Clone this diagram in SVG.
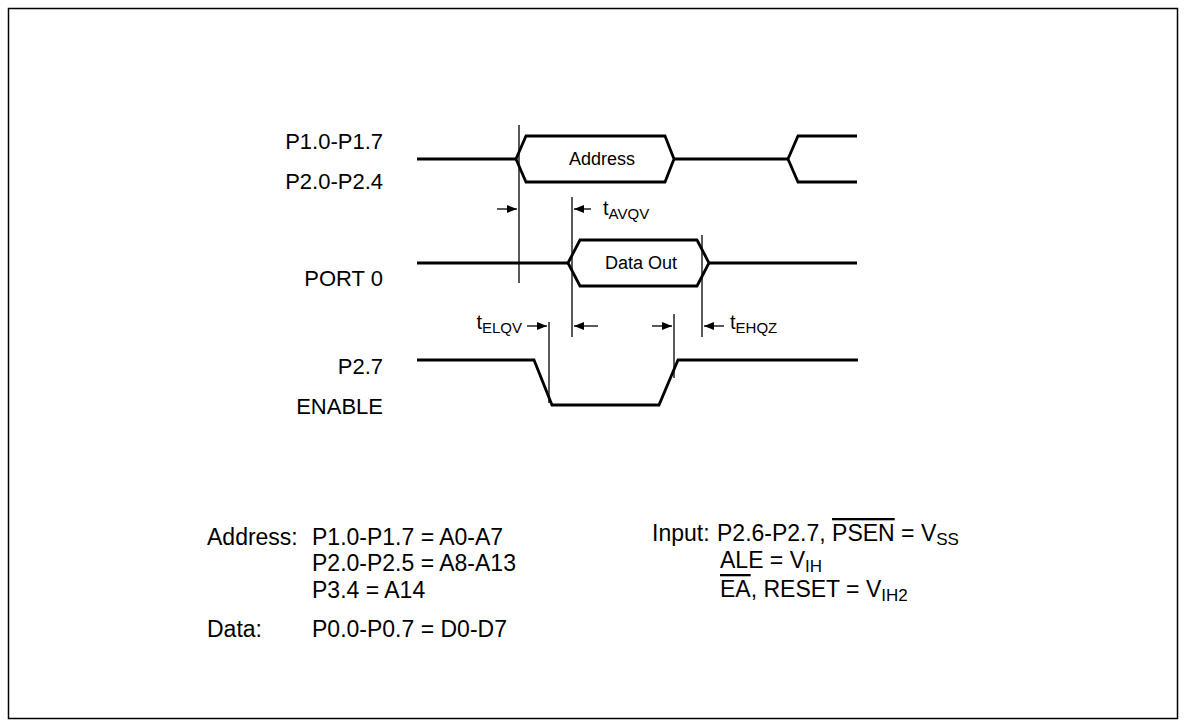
<svg xmlns="http://www.w3.org/2000/svg" width="1186" height="727" viewBox="0 0 1186 727">
<style>
text{font-family:"Liberation Sans",Arial,sans-serif;fill:#000}
.lbl{font-size:22px;text-anchor:end}
.box{font-size:18px;text-anchor:middle}
.tm{font-size:20px}
.sub{font-size:15px}
.bt{font-size:23px}
.bsub{font-size:17px}
.sig{fill:none;stroke:#000;stroke-width:2.8;stroke-linejoin:miter}
.ref{fill:none;stroke:#000;stroke-width:1.3}
.arr{fill:none;stroke:#000;stroke-width:1.3;marker-end:url(#ah)}
</style>
<defs>
<marker id="ah" viewBox="0 0 10 8" refX="10" refY="4" markerWidth="10" markerHeight="8" markerUnits="userSpaceOnUse" orient="auto">
<path d="M0,0 L10,4 L0,8 Z" fill="#000"/>
</marker>
</defs>
<rect x="8.5" y="8.5" width="1169" height="710" fill="#fff" stroke="#000" stroke-width="1.5"/>
<g id="labels">
<text class="lbl" x="383" y="149">P1.0-P1.7</text>
<text class="lbl" x="383" y="189">P2.0-P2.4</text>
<text class="lbl" x="383" y="286">PORT 0</text>
<text class="lbl" x="383" y="374">P2.7</text>
<text class="lbl" x="383" y="414">ENABLE</text>
</g>
<g id="address-signal">
<path class="sig" d="M417,159 H516"/>
<path class="sig" d="M516,159 L526,136 H665 L674,159 L665,182 H526 Z"/>
<path class="sig" d="M674,159 H788"/>
<path class="sig" d="M857,136 H798 L788,159 L798,182 H857"/>
<text class="box" x="602" y="165">Address</text>
</g>
<g id="data-signal">
<path class="sig" d="M417,263 H568"/>
<path class="sig" d="M568,263 L580,240 H697 L709,263 L697,286 H580 Z"/>
<path class="sig" d="M709,263 H857"/>
<text class="box" x="641" y="269">Data Out</text>
</g>
<g id="enable-signal">
<path class="sig" d="M417,360 H534 L552,405 H659 L678,360 H858"/>
</g>
<g id="connectors">
<line class="ref" x1="519" y1="125" x2="519" y2="283"/>
<line class="ref" x1="572" y1="197" x2="572" y2="337"/>
<line class="ref" x1="702" y1="235" x2="702" y2="337"/>
<line class="ref" x1="549" y1="322" x2="549" y2="403"/>
<line class="ref" x1="674" y1="314" x2="674" y2="378"/>
<line class="arr" x1="497" y1="209" x2="517" y2="209"/>
<line class="arr" x1="591" y1="209" x2="574" y2="209"/>
<line class="arr" x1="527" y1="326" x2="547" y2="326"/>
<line class="arr" x1="598" y1="326" x2="574" y2="326"/>
<line class="arr" x1="652" y1="326" x2="672" y2="326"/>
<line class="arr" x1="724" y1="326" x2="704" y2="326"/>
</g>
<g id="timing-labels">
<text x="603" y="215"><tspan class="tm">t</tspan><tspan class="sub" dy="4">AVQV</tspan></text>
<text x="522" y="329" text-anchor="end"><tspan class="tm">t</tspan><tspan class="sub" dy="4">ELQV</tspan></text>
<text x="730" y="329"><tspan class="tm">t</tspan><tspan class="sub" dy="4">EHQZ</tspan></text>
</g>
<g id="notes-address">
<text class="bt" x="207" y="545">Address:</text>
<text class="bt" x="312" y="545">P1.0-P1.7 = A0-A7</text>
<text class="bt" x="312" y="571">P2.0-P2.5 = A8-A13</text>
<text class="bt" x="312" y="598">P3.4 = A14</text>
<text class="bt" x="207" y="637">Data:</text>
<text class="bt" x="312" y="637">P0.0-P0.7 = D0-D7</text>
</g>
<g id="notes-input">
<text class="bt" x="652" y="541">Input:</text>
<text class="bt" x="717" y="541">P2.6-P2.7, <tspan text-decoration="overline">PSEN</tspan> = V<tspan class="bsub" dy="4">SS</tspan></text>
<text class="bt" x="720" y="568">ALE = V<tspan class="bsub" dy="4">IH</tspan></text>
<text class="bt" x="720" y="597"><tspan text-decoration="overline">EA</tspan>, RESET = V<tspan class="bsub" dy="4">IH2</tspan></text>
</g>
</svg>
